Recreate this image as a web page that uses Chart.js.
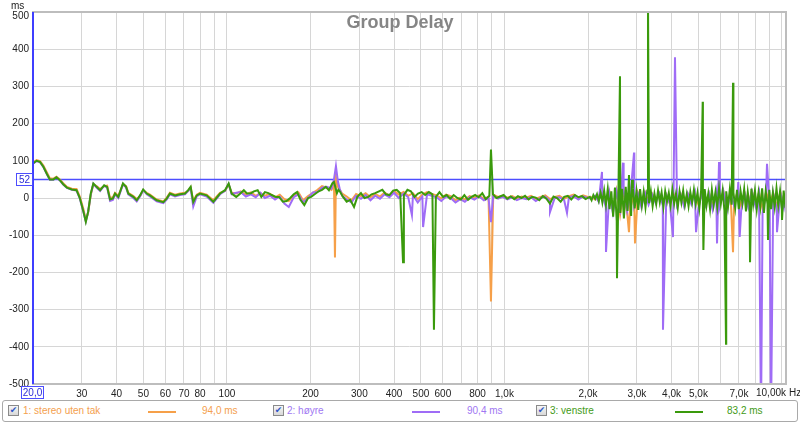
<!DOCTYPE html>
<html>
<head>
<meta charset="utf-8">
<script src="https://cdn.jsdelivr.net/npm/chart.js@4.4.1/dist/chart.umd.min.js"></script>
<style>
  body { margin: 0; background: #fff; font-family: "Liberation Sans", Arial, sans-serif; }
  #wrap { position: relative; width: 800px; height: 424px; overflow: hidden; }
  #legend { position: absolute; left: 2px; top: 400px; width: 794px; height: 20px; border: 1px solid #a9a9a9; border-radius: 3px; }
  .lg { position: absolute; top: 405px; font-size: 10px; line-height: 12px; white-space: nowrap; }
  .box { position: absolute; top: 405px; width: 9px; height: 9px; border: 1px solid #8a8a8a; background: linear-gradient(#f6f6f6, #d8d8d8); color: #2f56c6; font-size: 9px; line-height: 9px; text-align: center; font-family: "DejaVu Sans", sans-serif; }
  .ln { position: absolute; top: 411px; width: 28px; height: 2px; }
</style>
</head>
<body>
<div id="wrap">
  <canvas id="gd-chart" width="800" height="400"></canvas>
  <div id="legend"></div>
  <span class="box" style="left:8px">✔</span>
  <span class="lg" style="left:23px;color:#f4a04e">1: stereo uten tak</span>
  <span class="ln" style="left:148px;background:#f6a049"></span>
  <span class="lg" style="left:202px;color:#f4a04e">94,0 ms</span>
  <span class="box" style="left:273px">✔</span>
  <span class="lg" style="left:287px;color:#a077f2">2: høyre</span>
  <span class="ln" style="left:412px;background:#9f6cf6"></span>
  <span class="lg" style="left:467px;color:#a077f2">90,4 ms</span>
  <span class="box" style="left:536px">✔</span>
  <span class="lg" style="left:550px;color:#3f9a16">3: venstre</span>
  <span class="ln" style="left:675px;background:#3a9a0c"></span>
  <span class="lg" style="left:727px;color:#3f9a16">83,2 ms</span>
</div>
<script>
  // frequencies (Hz) of the venstre trace
  const venstreHz = [
    20, 20.6, 21.2, 21.8, 22.4, 23, 23.7, 24.3, 25, 25.7,
    26.5, 27.6, 28.7, 29.5, 30.4, 31, 31.6, 32.3, 33, 33.9,
    34.9, 36.1, 37, 37.9, 38.8, 39.5, 40.6, 42.2, 43.3, 44.1,
    46, 47.3, 48.6, 49.9, 51.4, 52.8, 55.8, 59, 60.7, 62.3,
    65, 67.7, 70.6, 72.5, 74, 75.6, 77.8, 80, 84.5, 89.3,
    94.4, 98.4, 101.4, 104,
    108, 111, 115, 118, 122, 125, 129, 133, 137, 141,
    145, 150, 154, 159, 164, 169, 174, 179, 184, 190,
    196, 201, 207, 214, 220, 227, 233, 240, 243, 246,
    249, 252, 255, 262, 270, 278, 287, 295, 304, 313,
    323, 332, 342, 353, 363, 374, 385, 397, 409, 421,
    434, 447, 460, 474, 488, 503, 518, 534, 550, 566,
    583, 601, 619, 637, 656, 676, 696, 717, 739, 761,
    784, 807, 832, 856, 882, 909, 936, 964, 993, 1023,
    1053, 1085, 1118, 1151, 1186, 1221, 1258, 1296, 1335, 1375,
    1416, 1458, 1502, 1547, 1594, 1641, 1691, 1741, 1794, 1848,
    1903, 1960,
    2030, 2060, 2091, 2123, 2155, 2187, 2220, 2253, 2287, 2321,
    2356, 2391, 2427, 2464, 2501, 2538, 2576, 2615, 2654, 2694,
    2735, 2776, 2817, 2860, 2903, 2946, 2990, 3035, 3081, 3127,
    3174, 3222, 3270, 3319, 3369, 3419, 3471, 3523, 3576, 3629,
    3684, 3739, 3795, 3852, 3910, 3969, 4028, 4089, 4150, 4212,
    4275, 4340, 4405, 4471, 4538, 4606, 4675, 4745, 4816, 4889,
    4962, 5036, 5112, 5189, 5267, 5346, 5426, 5507, 5590, 5674,
    5759, 5845, 5933, 6022, 6112, 6204, 6297, 6392, 6488, 6585,
    6684, 6784, 6886, 6989, 7094, 7200, 7308, 7418, 7529, 7642,
    7757, 7873, 7991, 8111, 8233, 8356, 8482, 8609, 8738, 8869,
    9002, 9137, 9274, 9413, 9555, 9698, 9843, 9991, 10141, 10293,
    10340
  ];
  // group delay (ms), 3: venstre
  const venstreMs = [
    93, 100, 97, 84, 66, 50, 50, 56, 48, 37,
    28, 23, 21, 0, -37, -64, -37, 12, 39, 30,
    21, 34, 30, -4, -1, 12, 3, 39, 30, 12,
    3, -6, 7, 23, 12, 7, -6, -11, -1, 12,
    7, 10, 12, 21, 30, -11, 7, 12, 7, -10,
    12, 21, 39, 12,
    3, 10, 21, 12, 13, 18, 21, 3, 16, 13,
    8, 3, 3, -10, -8, 0, 10, 16, -5, -19,
    0, 3, 10, 18, 22, 30, 21, 40, 43, 28,
    13, 22, 18, 3, -10, -5, -24, 3, 13, 0,
    3, 10, 13, 18, 22, 10, 8, 20, 22, 13,
    8, 22, 18, 3, 12, 16, 8, 16, 10, 3,
    16, 3, 8, -2, 8, 0, -4, 8, -5, 3,
    8, 2, 13, -3, 6, 10, 0, 4, 8, -2,
    4, -3, 5, 0, 6, -4, 3, 1, -6, 5,
    -2, -15, 4, 0, -10, 3, 6, -4, 8, 2,
    5, -3,
    3, -6, 8, -2, 10, -8, 14, -12, 20, -18,
    24, -30, 18, -50, 28, -62, 32, -40, 25, -55,
    30, -35, 22, -48, 26, -28, 18, -32, 24, -20,
    16, -25, 20, -14, 18, -22, 12, -16, 20, -12,
    15, -24, 18, -10, 14, -20, 22, -15, 12, -26,
    18, -12, 20, -18, 10, -22, 16, -12, 22, -16,
    14, -28, 20, -14, 24, -20, 12, -30, 22, -18,
    16, -24, 26, -15, 20, -34, 18, -22, 24, -18,
    15, -26, 22, -30, 18, -14, 24, -36, 16, -22,
    25, -18, 20, -30, 14, -24, 26, -40, 18, -16,
    22, -30, 15, -24, 26, -20, 18, -32, 20, -26,
    10
  ];

  // frequencies (Hz) of the stereo and høyre traces
  const sideHz = [
    20, 20.6, 21.2, 21.8, 22.4, 23, 23.7, 24.3, 25, 25.7,
    26.5, 27.6, 28.7, 29.5, 30.4, 31, 31.6, 32.3, 33, 33.9,
    34.9, 36.1, 37, 37.9, 38.8, 39.5, 40.6, 42.2, 43.3, 44.1,
    46, 47.3, 48.6, 49.9, 51.4, 52.8, 55.8, 59, 60.7, 62.3,
    65, 67.7, 70.6, 72.5, 74, 75.6, 77.8, 80, 84.5, 89.3,
    94.4, 98.4, 101.4, 104,
    108, 112, 117, 122, 127, 132, 137, 143, 149, 155, 161, 167, 174, 181, 188, 196, 204, 212, 220,
    229, 238, 243, 247, 251, 255, 260, 270, 281, 292, 304, 316, 329, 342, 356, 370, 385, 400, 416, 433,
    450, 468, 487, 506, 526, 547, 569, 592, 616, 640, 666, 693, 720, 749, 779, 810, 843, 876, 911, 948,
    985, 1025, 1066, 1108, 1153, 1199, 1247, 1297, 1349, 1403, 1459, 1517, 1578, 1641, 1707, 1775, 1846, 1920, 1997,
    2060, 2122, 2185, 2251, 2319, 2388, 2460, 2534, 2610, 2688, 2768, 2851, 2937, 3025, 3116, 3209, 3306, 3405, 3507, 3612,
    3720, 3832, 3947, 4066, 4188, 4313, 4443, 4576, 4713, 4855, 5000, 5150, 5305, 5464, 5628, 5797, 5971, 6150, 6334, 6524,
    6720, 6922, 7129, 7343, 7564, 7790, 8024, 8265, 8513, 8768, 9031, 9302, 9581, 9869, 10165, 10340
  ];
  // group delay (ms), 1: stereo uten tak
  const stereoMs = [
    95, 102, 99, 87, 70, 53, 52, 57, 50, 40,
    30, 25, 24, 4, -30, -60, -40, 8, 37, 32,
    24, 32, 33, 0, 2, 14, 6, 37, 32, 14,
    5, -3, 5, 21, 14, 9, -4, -9, 1, 14,
    9, 12, 14, 19, 28, -8, 9, 14, 9, -6,
    14, 19, 36, 14,
    12, 18, 10, 15, 6, 13, 6, 11, 2, 9, -3, -8, 6, 15, -6, 5, 14, 22, 32,
    28, 22, 38, 55, 30, 22, 12, 4, -6, 11, 5, 13, 2, 11, 4, 15, 6, 19, 9, 16,
    6, 13, -3, 9, 16, 11, 7, -1, 9, 5, -6, 1, -4, 5, 1, 7, -2, 3, 9, 3,
    6, 1, 5, -1, 4, 1, 6, -2, 3, 7, -3, 3, 6, -2, 5, 9, 1, 7, 3,
    2, -4, 6, 15, -10, 18, -30, 20, -45, 22, -40, 16, -24, 14, -12, 15, -10, 11, -8, 12,
    -12, 9, -16, 13, -10, 11, -15, 12, -8, 14, -18, 15, -12, 13, -22, 17, -14, 18, -26, 15,
    -12, 17, -24, 13, -18, 18, -14, 15, -30, 17, -16, 13, -22, 15, -18, 9
  ];
  // group delay (ms), 2: høyre
  const hoyreMs = [
    92, 99, 96, 83, 65, 49, 49, 55, 47, 36,
    27, 22, 20, -2, -38, -63, -38, 10, 38, 28,
    19, 33, 28, -8, -5, 10, 0, 37, 28, 10,
    0, -9, 4, 21, 10, 4, -9, -14, -4, 10,
    4, 8, 10, 19, 26, -23, 4, 10, 4, -13,
    10, 19, 38, 10,
    14, 16, 4, 10, 2, 14, 0, 6, -4, 4, -15, -24, 2, 10, -12, 0, 15, 16, 28,
    30, 25, 50, 86, 45, 24, 6, -4, -12, 6, -2, 8, -6, 6, -2, 10, 2, 14, 0, 12,
    2, 8, -12, 4, 10, 6, 2, -8, 4, 0, -12, -3, -10, 2, -4, 4, -6, 0, 6, -2,
    3, -4, 2, -6, 0, -3, 2, -8, 0, 4, -8, 0, 2, -6, 2, 5, -4, 4, 0,
    -2, 6, -10, 12, -25, 14, -40, 18, -30, 20, -35, 15, -20, 12, -25, 14, -18, 10, -14, 12,
    -20, 8, -15, 12, -18, 10, -24, 12, -16, 14, -26, 14, -20, 12, -32, 16, -22, 18, -36, 14,
    -20, 16, -34, 12, -26, 18, -22, 14, -40, 16, -24, 12, -30, 14, -26, 8
  ];

  // narrow spikes [Hz, ms]
  const stereoSpikes = [[245, -160], [894, -278], [2810, -92], [2954, -122], [6662, -146]];
  const hoyreSpikes = [
    [464, -46], [509, -78], [894, -65], [1459, -38], [1680, -40], [2246, 70], [2322, -145],
    [2674, 95], [2930, 122], [3726, -354], [4048, -105], [4116, 378], [4902, -92], [5834, -122],
    [5932, 97], [6960, 43], [7040, -105], [8404, -600], [8832, 92], [9130, -600], [9596, -92]
  ];
  const venstreSpikes = [
    [431, -173], [557, -354], [894, 130], [2544, -216], [2608, 327], [2810, 62], [2882, 49],
    [3290, 540], [5180, 259], [5210, -140], [6286, -392], [6662, 310], [7672, -173], [8906, -113], [10004, -59]
  ];

  const xTickValues = [20, 30, 40, 50, 60, 70, 80, 90, 100, 200, 300, 400, 500, 600, 700, 800, 900,
    1000, 2000, 3000, 4000, 5000, 6000, 7000, 8000, 9000, 10000];
  const xTickLabels = ['', '30', '40', '50', '60', '70', '80', '', '100', '200', '300', '400', '500', '600', '', '800', '',
    '1,0k', '2,0k', '3,0k', '4,0k', '5,0k', '', '7,0k', '', '', ''];

  const cursorHz = 20;
  const cursorMs = 52;

  function buildSeries(hz, values, spikes) {
    const pts = hz.map((f, i) => ({ x: f, y: values[i] }));
    spikes.forEach(([f, v]) => pts.push({ x: f, y: v }));
    return pts.sort((a, b) => a.x - b.x);
  }

  const FONT = '"Liberation Sans", Arial, sans-serif';

  const overlay = {
    id: 'overlay',
    beforeDatasetsDraw(chart) {
      const { ctx, chartArea: a, scales: { y } } = chart;
      const yc = Math.round(y.getPixelForValue(cursorMs)) + 0.5;
      ctx.save();
      ctx.strokeStyle = '#4d4dff';
      ctx.lineWidth = 1.3;
      ctx.beginPath();
      ctx.moveTo(a.left, yc);
      ctx.lineTo(a.right, yc);
      ctx.stroke();
      ctx.restore();
    },
    afterDraw(chart) {
      const { ctx, chartArea: a, scales: { x, y } } = chart;
      ctx.save();
      // frame
      ctx.strokeStyle = '#bdbdbd';
      ctx.lineWidth = 2;
      ctx.strokeRect(a.left, a.top, a.right - a.left, a.bottom - a.top);
      // frequency cursor
      const xc = x.getPixelForValue(cursorHz);
      ctx.strokeStyle = '#3f3fff';
      ctx.lineWidth = 2;
      ctx.beginPath();
      ctx.moveTo(xc, a.top);
      ctx.lineTo(xc, a.bottom);
      ctx.stroke();
      // title
      ctx.fillStyle = '#858585';
      ctx.font = 'bold 18px ' + FONT;
      ctx.textAlign = 'center';
      ctx.textBaseline = 'alphabetic';
      ctx.fillText('Group Delay', 400, 28);
      // units and the labels pushed off their grid line
      ctx.fillStyle = '#222';
      ctx.font = '10px ' + FONT;
      ctx.textAlign = 'left';
      ctx.fillText('ms', 11, 9);
      ctx.textBaseline = 'middle';
      ctx.textAlign = 'right';
      ctx.fillText('500', 29, 16);
      ctx.fillText('10,00k', 786, 393);
      ctx.textAlign = 'left';
      ctx.fillText('Hz', 789, 393);
      // cursor readouts
      ctx.textAlign = 'center';
      const yc = Math.round(y.getPixelForValue(cursorMs));
      ctx.fillStyle = '#fff';
      ctx.fillRect(16, yc - 6, 17, 13);
      ctx.strokeStyle = '#4d4dff';
      ctx.lineWidth = 1;
      ctx.strokeRect(16.5, yc - 5.5, 16, 12);
      ctx.fillStyle = '#2b2bd8';
      ctx.fillText(String(cursorMs), 24.5, yc + 1);
      ctx.fillStyle = '#fff';
      ctx.fillRect(21, 386, 23, 13);
      ctx.strokeRect(21.5, 386.5, 22, 12);
      ctx.fillStyle = '#2b2bd8';
      ctx.fillText('20,0', 32.5, 393);
      ctx.restore();
    }
  };

  const ctx = document.getElementById('gd-chart').getContext('2d');
  const tickFont = { family: FONT, size: 10 };

  const gdChart = new Chart(ctx, {
    type: 'line',
    data: {
      datasets: [
        { label: '3: venstre', data: buildSeries(venstreHz, venstreMs, venstreSpikes), borderColor: '#3a9a0c', order: 0 },
        { label: '2: høyre', data: buildSeries(sideHz, hoyreMs, hoyreSpikes), borderColor: '#9f6cf6', order: 1 },
        { label: '1: stereo uten tak', data: buildSeries(sideHz, stereoMs, stereoSpikes), borderColor: '#f6a049', order: 2 }
      ]
    },
    options: {
      responsive: false,
      animation: false,
      clip: 0,
      layout: { padding: { top: 12, right: 14, left: 0, bottom: 0 } },
      elements: {
        point: { radius: 0 },
        line: { borderWidth: 2, tension: 0 }
      },
      plugins: {
        legend: { display: false },
        tooltip: { enabled: false }
      },
      scales: {
        x: {
          type: 'logarithmic',
          min: 20,
          max: 10340,
          border: { display: false },
          grid: { color: '#d6d6d6', drawTicks: false },
          afterBuildTicks(scale) {
            scale.ticks = xTickValues.map(v => ({ value: v }));
          },
          afterFit(scale) {
            scale.height = 16;
            scale.paddingLeft = 0;
            scale.paddingRight = 0;
          },
          ticks: {
            autoSkip: false,
            maxRotation: 0,
            padding: 4,
            color: '#222',
            font: tickFont,
            callback(value) {
              const i = xTickValues.indexOf(value);
              return i >= 0 ? xTickLabels[i] : '';
            }
          }
        },
        y: {
          min: -500,
          max: 500,
          border: { display: false },
          grid: { color: '#d6d6d6', drawTicks: false },
          afterFit(scale) {
            scale.width = 33;
          },
          ticks: {
            stepSize: 100,
            padding: 4,
            color: '#222',
            font: tickFont,
            callback: value => (value === 500 ? '' : String(value))
          }
        }
      }
    },
    plugins: [overlay]
  });
</script>
</body>
</html>
